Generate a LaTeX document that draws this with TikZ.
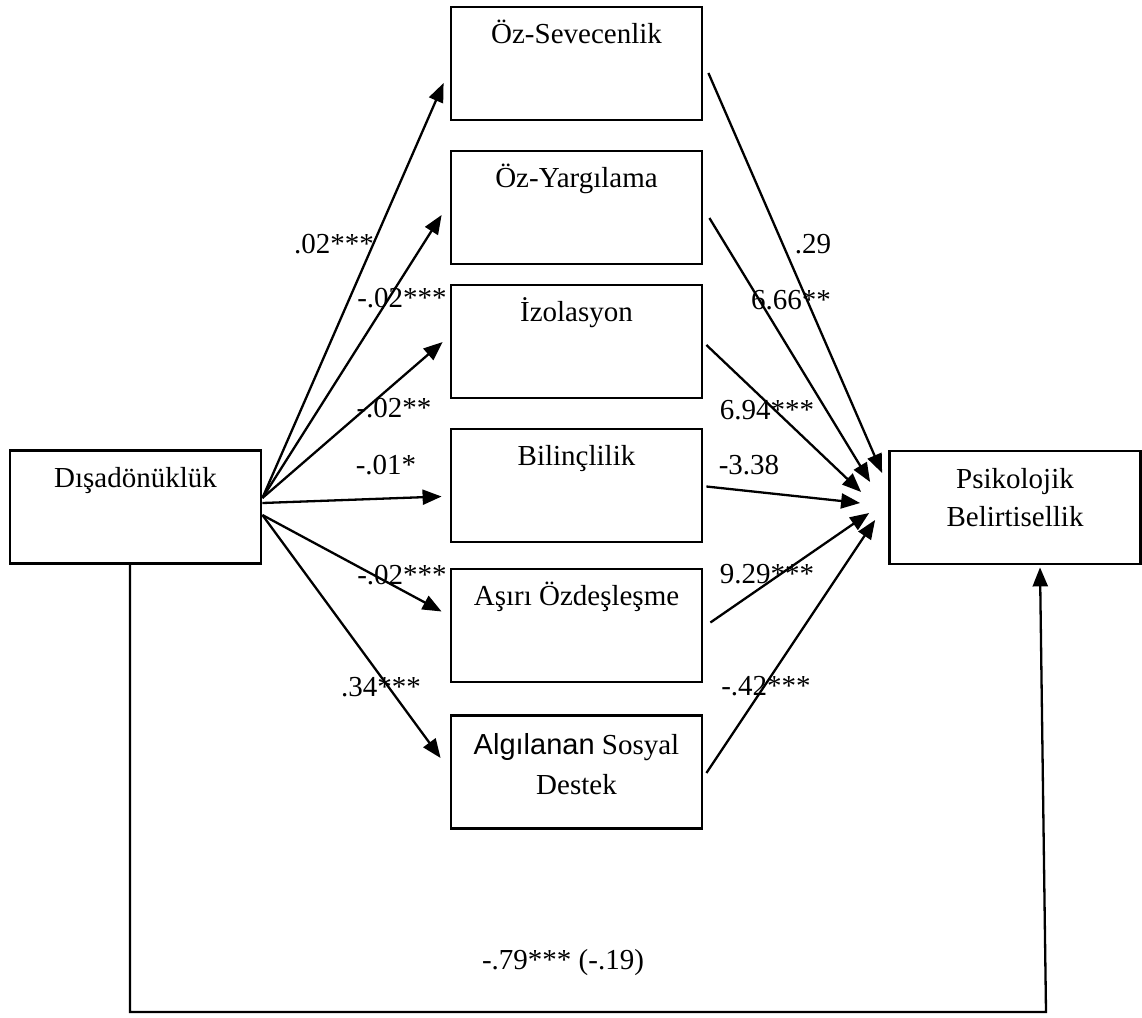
\documentclass[tikz,border=0pt]{standalone}
\usepackage{fontspec}
\setmainfont{Liberation Serif}
\newfontfamily\armfont{Liberation Sans}
\usetikzlibrary{arrows.meta}

\begin{document}
\begin{tikzpicture}
[x=1pt,y=-1pt,%
  boxDecorate/.style={shape=rectangle,draw,line width=2.8pt,minimum width=251pt,minimum height=113pt,inner sep=0pt},%
  lineDecorate/.style={-{Triangle[length=19pt,width=15pt]},line width=2.3pt},%
  textDecorate/.style={anchor=base,inner sep=0pt},%
  font=\fontsize{29}{38}\selectfont]
\useasboundingbox (0,0) rectangle (1142,1017);
%% outer boxes
\node[boxDecorate,label={[textDecorate,yshift=-38pt]north:Dışadönüklük}] (disa) at (135.5,507) {};
\node[boxDecorate,label={[textDecorate,yshift=-39pt]north:Psikolojik},
  label={[textDecorate,yshift=-77pt]north:Belirtisellik}] (psiko) at (1015,507.5) {};
%% mediator boxes
\foreach \nodename/\ytop/\nodetext in {
  sev/7/{Öz-Sevecenlik}, yarg/151/{Öz-Yargılama}, izo/285/{İzolasyon},
  bil/429/{Bilinçlilik}, asiri/569/{Aşırı Özdeşleşme}}
{
  \node[boxDecorate,label={[textDecorate,yshift=-38pt]north:\nodetext}] (\nodename) at (576.5,\ytop+56.5) {};
}
\node[boxDecorate,label={[textDecorate,yshift=-40pt]north:{{\armfont Algılanan} Sosyal}},
  label={[textDecorate,yshift=-80pt]north:Destek}] (destek) at (576.5,772) {};
%% paths a
\path
([yshift=9pt]disa.east) edge[lineDecorate] ([xshift=-6pt,yshift=-19.5pt]sev.west)
([yshift=9pt]disa.east) edge[lineDecorate] ([xshift=-8pt,yshift=-7.5pt]yarg.west)
([yshift=9pt]disa.east) edge[lineDecorate] ([xshift=-7pt,yshift=-0.5pt]izo.west)
([yshift=4pt]disa.east) edge[lineDecorate] ([xshift=-8pt,yshift=-11pt]bil.west)
([yshift=-8pt]disa.east) edge[lineDecorate] ([xshift=-8pt,yshift=14pt]asiri.west)
([yshift=-8pt]disa.east) edge[lineDecorate] ([xshift=-9pt,yshift=14pt]destek.west);
%% paths b
\path
([xshift=5pt,yshift=-9.5pt]sev.east) edge[lineDecorate] ([xshift=-6pt,yshift=34.5pt]psiko.west)
([xshift=6pt,yshift=-10.5pt]yarg.east) edge[lineDecorate] ([xshift=-18pt,yshift=25.5pt]psiko.west)
([xshift=3pt,yshift=-3.5pt]izo.east) edge[lineDecorate] ([xshift=-27pt,yshift=15.5pt]psiko.west)
([xshift=3pt,yshift=-1pt]bil.east) edge[lineDecorate] ([xshift=-28pt,yshift=4.5pt]psiko.west)
([xshift=7pt,yshift=3pt]asiri.east) edge[lineDecorate] ([xshift=-19pt,yshift=-5.5pt]psiko.west)
([xshift=3pt,yshift=-1pt]destek.east) edge[lineDecorate] ([xshift=-13pt,yshift=-12.5pt]psiko.west);
%% direct path
\coordinate (bl) at (130,1012);
\coordinate (br) at (1046,1012);
\draw[lineDecorate] (disa.south -| bl) -- (bl) -- (br) -- ([xshift=25pt,yshift=-2pt]psiko.south);
%% coefficients
\foreach \nodename/\x/\y/\val in {
  ca1/334/244/{.02***}, ca2/402/298/{-.02***}, ca3/394/408/{-.02**},
  ca4/386/465/{-.01*}, ca5/402/575/{-.02***}, ca6/381/687/{.34***},
  cb1/813/244/{.29}, cb2/791/300/{6.66**}, cb3/767/410/{6.94***},
  cb4/749/465/{-3.38}, cb5/767/574/{9.29***}, cb6/766/686/{-.42***},
  cc/563/963/{-.79*** (-.19)}}
{
  \node[inner sep=0pt] (\nodename) at (\x,\y) {\val};
}
\end{tikzpicture}
\end{document}
